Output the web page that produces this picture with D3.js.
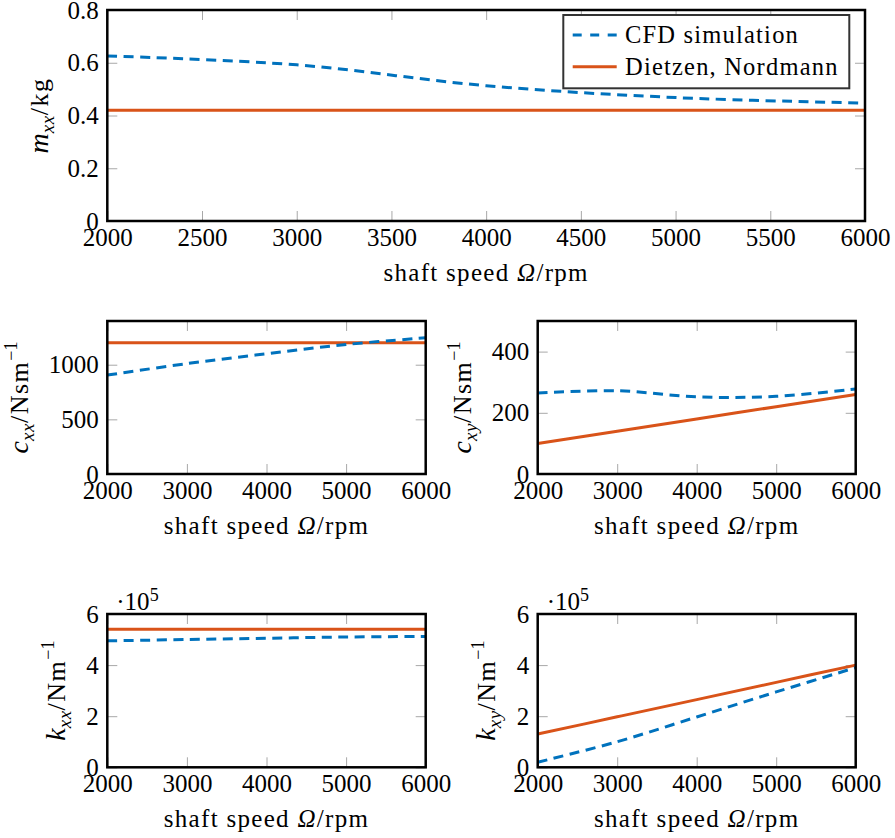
<!DOCTYPE html>
<meta charset="utf-8">
<style>
body { margin: 0; background: #fff; }
</style>
<svg width="895" height="838"></svg>
<script src="https://d3js.org/d3.v7.min.js"></script>
<script>

// shaft speeds (rpm) where values were read
var rpm = [2000, 3000, 4000, 5000, 6000];

// m_xx in kg
var mxxCFD = [0.626, 0.592, 0.513, 0.468, 0.447];
var mxxDN  = [0.42, 0.42, 0.42, 0.42, 0.42];
// c_xx in Ns/m
var cxxCFD = [905, 1010, 1100, 1185, 1246];
var cxxDN  = [1200, 1200, 1200, 1200, 1200];
// c_xy in Ns/m
var cxyCFD = [265, 272, 252, 254, 278];
var cxyDN  = [100, 140, 180, 220, 260];
// k_xx in N/m
var kxxCFD = [4.95e5, 5.0e5, 5.05e5, 5.1e5, 5.12e5];
var kxxDN  = [5.4e5, 5.4e5, 5.4e5, 5.4e5, 5.4e5];
// k_xy in N/m
var kxyCFD = [0.2e5, 1.0e5, 1.97e5, 2.95e5, 3.9e5];
var kxyDN  = [1.3e5, 1.975e5, 2.65e5, 3.325e5, 4.0e5];

var legendNames = ["CFD simulation", "Dietzen, Nordmann"];

var blue = "#0072BD", red = "#D95319";
var svg = d3.select("svg");

// pick a serif face that is really installed
var ctx = document.createElement("canvas").getContext("2d");
function widthIn(f) { ctx.font = "40px " + f; return ctx.measureText("shaft speed 2000 Wmgi").width; }
var baseMono = widthIn("monospace"), baseSans = widthIn("sans-serif");
var serifFont = ["Liberation Serif", "DejaVu Serif", "Tinos", "Times New Roman", "Noto Serif"].find(function(f) {
  return widthIn('"' + f + '", monospace') !== baseMono && widthIn('"' + f + '", sans-serif') !== baseSans;
}) || "serif";
var FONT = '"' + serifFont + '", serif';

var panels = [
  {x0: 107.3, x1: 865, y0: 10, y1: 221, step: 500, ymax: 0.8,
   yticks: [0, 0.2, 0.4, 0.6, 0.8], fmt: d => d ? d.toFixed(1) : "0",
   cfd: mxxCFD, dn: mxxDN, sym: "m", sub: "xx", unit: "/kg", sup: null, lx: 48, legend: true},
  {x0: 107.3, x1: 425.7, y0: 321, y1: 474, step: 1000, ymax: 1400,
   yticks: [0, 500, 1000], fmt: d3.format("d"),
   cfd: cxxCFD, dn: cxxDN, sym: "c", sub: "xx", unit: "/Nsm", sup: "\u22121", lx: 28},
  {x0: 537.7, x1: 855.7, y0: 321, y1: 474, step: 1000, ymax: 500,
   yticks: [0, 200, 400], fmt: d3.format("d"),
   cfd: cxyCFD, dn: cxyDN, sym: "c", sub: "xy", unit: "/Nsm", sup: "\u22121", lx: 471},
  {x0: 107.3, x1: 425.7, y0: 614, y1: 767.3, step: 1000, ymax: 6e5,
   yticks: [0, 2e5, 4e5, 6e5], fmt: d => d / 1e5, exp: true,
   cfd: kxxCFD, dn: kxxDN, sym: "k", sub: "xx", unit: "/Nm", sup: "\u22121", lx: 65},
  {x0: 537.7, x1: 855.7, y0: 614, y1: 767.3, step: 1000, ymax: 6e5,
   yticks: [0, 2e5, 4e5, 6e5], fmt: d => d / 1e5, exp: true,
   cfd: kxyCFD, dn: kxyDN, sym: "k", sub: "xy", unit: "/Nm", sup: "\u22121", lx: 495}
];

function styleAxis(sel) {
  sel.select(".domain").remove();
  sel.selectAll(".tick line").attr("stroke", "#a8a8a8").attr("stroke-width", 1);
  sel.attr("font-family", FONT).attr("font-size", 25);
  sel.selectAll("text").attr("fill", "#000");
}

panels.forEach(function(p) {
  var x = d3.scaleLinear().domain([2000, 6000]).range([p.x0, p.x1]);
  var y = d3.scaleLinear().domain([0, p.ymax]).range([p.y1, p.y0]);
  var xt = d3.range(2000, 6001, p.step);
  var g = svg.append("g").attr("font-family", FONT);

  g.append("g").attr("transform", "translate(0," + p.y0 + ")")
    .call(d3.axisTop(x).tickValues(xt).tickSize(-10).tickFormat(""))
    .call(styleAxis);
  g.append("g").attr("transform", "translate(" + p.x1 + ",0)")
    .call(d3.axisRight(y).tickValues(p.yticks).tickSize(-10).tickFormat(""))
    .call(styleAxis);
  g.append("g").attr("transform", "translate(0," + p.y1 + ")")
    .call(d3.axisBottom(x).tickValues(xt).tickSize(-10).tickPadding(7).tickFormat(d3.format("d")))
    .call(styleAxis);
  g.append("g").attr("transform", "translate(" + p.x0 + ",0)")
    .call(d3.axisLeft(y).tickValues(p.yticks).tickSize(-10).tickPadding(8.5).tickFormat(p.fmt))
    .call(styleAxis);

  var line = d3.line().x((d, i) => x(rpm[i])).y(d => y(d)).curve(d3.curveCardinal);
  g.append("path").attr("d", line(p.dn)).attr("fill", "none")
    .attr("stroke", red).attr("stroke-width", 3);
  g.append("path").attr("d", line(p.cfd)).attr("fill", "none")
    .attr("stroke", blue).attr("stroke-width", 3).attr("stroke-dasharray", "10,6.5");

  g.append("rect").attr("x", p.x0).attr("y", p.y0)
    .attr("width", p.x1 - p.x0).attr("height", p.y1 - p.y0)
    .attr("fill", "none").attr("stroke", "#000").attr("stroke-width", 2.5);

  // x title
  var xl = g.append("text").attr("x", (p.x0 + p.x1) / 2).attr("y", p.y1 + 60)
    .attr("text-anchor", "middle").attr("font-size", 25).attr("letter-spacing", 1.3);
  xl.append("tspan").text("shaft speed ");
  xl.append("tspan").attr("font-style", "italic").text("\u03A9");
  xl.append("tspan").text("/rpm");

  // y title
  var yl = g.append("text")
    .attr("transform", "translate(" + p.lx + "," + (p.y0 + p.y1) / 2 + ") rotate(-90)")
    .attr("text-anchor", "middle").attr("font-size", 26);
  yl.append("tspan").attr("font-style", "italic").attr("font-size", 28).text(p.sym);
  yl.append("tspan").attr("font-style", "italic").attr("font-size", 19).attr("dy", 6).attr("letter-spacing", 0.5).text(p.sub);
  yl.append("tspan").attr("dy", -6).attr("letter-spacing", 1.5).text(p.unit);
  if (p.sup) yl.append("tspan").attr("font-size", 18).attr("dy", -11).text(p.sup);

  if (p.exp) {
    var ex = g.append("text").attr("x", p.x0 + 9).attr("y", p.y0 - 4).attr("font-size", 25);
    ex.append("tspan").text("\u00B710");
    ex.append("tspan").attr("font-size", 18).attr("dy", -9).text("5");
  }

  if (p.legend) {
    var lg = g.append("g");
    lg.append("rect").attr("x", 563.3).attr("y", 15).attr("width", 286).attr("height", 73.3)
      .attr("fill", "#fff").attr("stroke", "#333").attr("stroke-width", 2);
    [blue, red].forEach(function(c, i) {
      var ly = 35 + i * 31.7;
      lg.append("line").attr("x1", 572.7).attr("x2", 616.7).attr("y1", ly).attr("y2", ly)
        .attr("stroke", c).attr("stroke-width", 3)
        .attr("stroke-dasharray", i === 0 ? "9,8.5" : null);
      lg.append("text").attr("x", 625).attr("y", ly + 8).attr("font-size", 24.5)
        .attr("letter-spacing", 1.2).text(legendNames[i]);
    });
  }
});
</script>
